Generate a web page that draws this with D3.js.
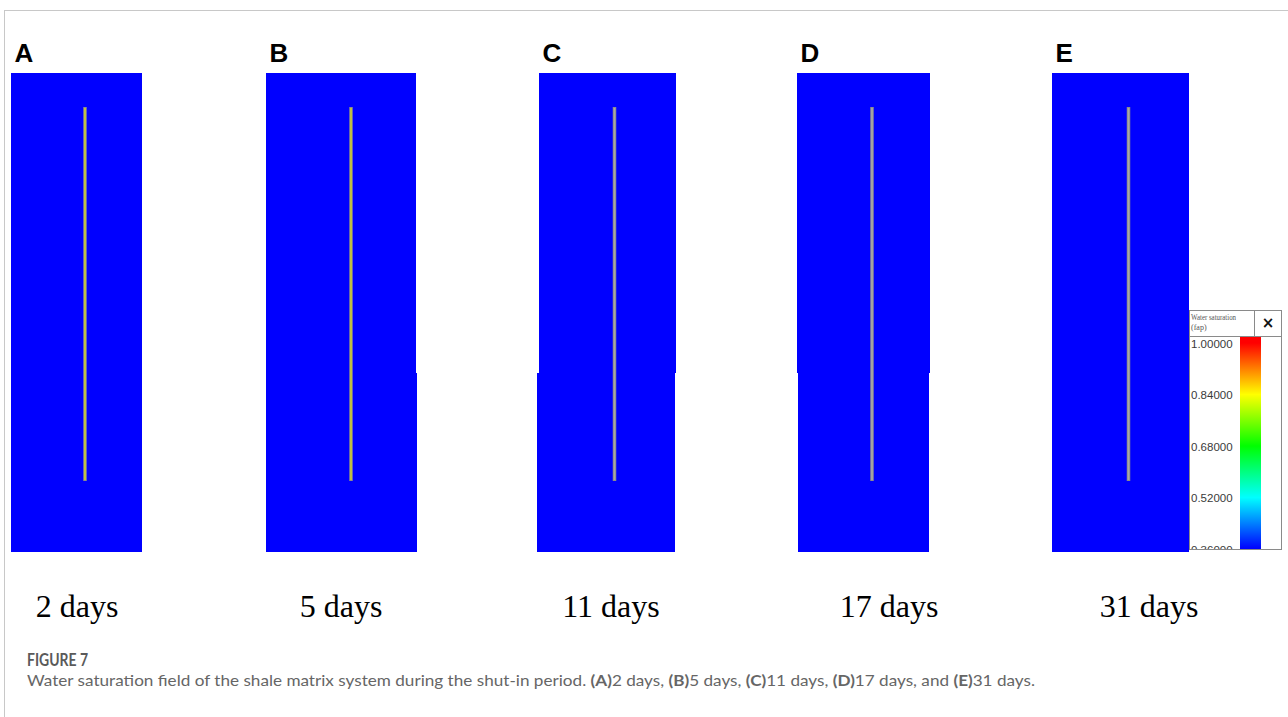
<!DOCTYPE html>
<html>
<head>
<meta charset="utf-8">
<script src="https://cdn.jsdelivr.net/npm/d3@7/dist/d3.min.js"></script>
<style>
  html, body { margin: 0; padding: 0; background: #fff; }
  svg { display: block; }
</style>
</head>
<body>
<svg id="fig" width="1288" height="717"></svg>
<script>
// ---- data ----
const panelLetters = ["A", "B", "C", "D", "E"];
const shutInDays = [2, 5, 11, 17, 31];
// matrix water saturation in each panel (uniform field)
const matrixSaturation = [0.36, 0.36, 0.36, 0.36, 0.36];
// water saturation inside the fracture (null = drained, drawn grey)
const fractureSaturation = [0.84, 0.84, null, null, null];
const colorbarTicks = [0.36, 0.52, 0.68, 0.84, 1.0];
const colorbarStops = [0.36, 0.44, 0.52, 0.60, 0.68, 0.76, 0.84, 0.92, 1.0];
const colorbarColors = ["#0000ff", "#0080ff", "#00ffff", "#00ff80", "#00ff00",
                        "#80ff00", "#ffff00", "#ff8000", "#ff0000"];

// ---- layout (pixel boxes of the grid blocks) ----
const layout = [
  { top: [11, 142],   bottom: [11, 142],   fx: 85,    lx: 77 },
  { top: [266, 416],  bottom: [266, 417],  fx: 351,   lx: 341 },
  { top: [539, 676],  bottom: [537, 675],  fx: 614.5, lx: 611 },
  { top: [797, 930],  bottom: [798, 929],  fx: 872,   lx: 889 },
  { top: [1052, 1189],bottom: [1052, 1189],fx: 1128.5,lx: 1149 }
];
const gridTop = 73, gridSeam = 373, gridBottom = 552;
const fracTop = 107, fracBottom = 481;

const color = d3.scaleLinear().domain(colorbarStops).range(colorbarColors).clamp(true);

const svg = d3.select("#fig");

// outer frame
svg.append("rect")
  .attr("x", 4.5).attr("y", 10.5)
  .attr("width", 1400).attr("height", 800)
  .attr("fill", "none").attr("stroke", "#c8c8c8").attr("stroke-width", 1);

const panels = svg.selectAll("g.panel")
  .data(panelLetters.map((l, i) => ({
    letter: l, days: shutInDays[i], sw: matrixSaturation[i],
    fsw: fractureSaturation[i], box: layout[i]
  })))
  .join("g").attr("class", "panel");

// matrix field: upper and lower grid blocks
panels.append("rect")
  .attr("x", d => d.box.top[0]).attr("y", gridTop)
  .attr("width", d => d.box.top[1] - d.box.top[0])
  .attr("height", gridSeam - gridTop)
  .attr("fill", d => color(d.sw));
panels.append("rect")
  .attr("x", d => d.box.bottom[0]).attr("y", gridSeam)
  .attr("width", d => d.box.bottom[1] - d.box.bottom[0])
  .attr("height", gridBottom - gridSeam)
  .attr("fill", d => color(d.sw));

// hydraulic fracture
panels.append("line")
  .attr("x1", d => d.box.fx).attr("x2", d => d.box.fx)
  .attr("y1", fracTop).attr("y2", fracBottom)
  .attr("stroke", "#8c8c8c").attr("stroke-width", 3.5);
panels.append("line")
  .attr("x1", d => d.box.fx).attr("x2", d => d.box.fx)
  .attr("y1", fracTop + 1).attr("y2", fracBottom - 1)
  .attr("stroke", d => d.fsw == null ? "#a8a8a8" : d3.interpolateRgb("#808080", color(d.fsw))(0.6))
  .attr("stroke-width", 1.6);

// panel letters
panels.append("text")
  .attr("x", d => d.box.top[0] + 3.5).attr("y", 62)
  .attr("font-family", "Liberation Sans, Arial, sans-serif")
  .attr("font-weight", "bold").attr("font-size", 26)
  .attr("fill", "#000")
  .text(d => d.letter);

// time labels
panels.append("text")
  .attr("x", d => d.box.lx).attr("y", 617)
  .attr("text-anchor", "middle")
  .attr("font-family", "Liberation Serif, Times New Roman, serif")
  .attr("font-size", 32).attr("fill", "#000")
  .text(d => `${d.days} days`);

// ---- colour legend ----
const cb = { x0: 1189, x1: 1282, head0: 310, head1: 336, y1: 550, split: 1254, bar0: 1240, bar1: 1261 };
const cbY = d3.scaleLinear().domain([0.36, 1.0]).range([549, 343]);

const legend = svg.append("g");
legend.append("rect")
  .attr("x", cb.x0).attr("y", cb.head0)
  .attr("width", cb.x1 - cb.x0).attr("height", cb.y1 - cb.head0)
  .attr("fill", "#fff");

const defs = svg.append("defs");
const grad = defs.append("linearGradient").attr("id", "swGrad")
  .attr("gradientUnits", "userSpaceOnUse")
  .attr("x1", 0).attr("x2", 0)
  .attr("y1", cbY(0.36)).attr("y2", cbY(1.0));
grad.selectAll("stop").data(colorbarStops).join("stop")
  .attr("offset", d => (d - 0.36) / (1.0 - 0.36))
  .attr("stop-color", d => color(d));

legend.append("rect")
  .attr("x", cb.bar0).attr("y", cb.head1 + 1)
  .attr("width", cb.bar1 - cb.bar0).attr("height", cb.y1 - cb.head1 - 2)
  .attr("fill", "url(#swGrad)");

defs.append("clipPath").attr("id", "cbClip")
  .append("rect").attr("x", cb.x0).attr("y", cb.head1)
  .attr("width", cb.x1 - cb.x0).attr("height", cb.y1 - cb.head1 - 1);

legend.append("g").attr("clip-path", "url(#cbClip)")
  .selectAll("text").data(colorbarTicks).join("text")
  .attr("x", 1191).attr("y", d => cbY(d) + 4.5)
  .attr("font-family", "Liberation Sans, Arial, sans-serif")
  .attr("font-size", 11.5).attr("fill", "#3a3a3a")
  .text(d => d.toFixed(5));

// header cells
legend.append("rect")
  .attr("x", cb.x0 + 0.5).attr("y", cb.head0 + 0.5)
  .attr("width", cb.x1 - cb.x0 - 1).attr("height", cb.y1 - cb.head0 - 1)
  .attr("fill", "none").attr("stroke", "#8a8a8a");
legend.append("line")
  .attr("x1", cb.x0).attr("x2", cb.x1)
  .attr("y1", cb.head1 + 0.5).attr("y2", cb.head1 + 0.5)
  .attr("stroke", "#8a8a8a");
legend.append("line")
  .attr("x1", cb.split + 0.5).attr("x2", cb.split + 0.5)
  .attr("y1", cb.head0).attr("y2", cb.head1)
  .attr("stroke", "#8a8a8a");
legend.append("text")
  .attr("x", 1191).attr("y", 320)
  .attr("font-family", "Liberation Serif, serif").attr("font-size", 8).attr("fill", "#555")
  .attr("textLength", 45).attr("lengthAdjust", "spacingAndGlyphs")
  .text("Water saturation");
legend.append("text")
  .attr("x", 1191).attr("y", 330)
  .attr("font-family", "Liberation Serif, serif").attr("font-size", 8).attr("fill", "#555")
  .text("(fap)");
legend.append("text")
  .attr("x", (cb.split + cb.x1) / 2).attr("y", 328)
  .attr("text-anchor", "middle")
  .attr("font-family", "DejaVu Sans, sans-serif").attr("font-weight", "bold")
  .attr("font-size", 15).attr("fill", "#111")
  .text("×");

// ---- caption ----
svg.append("text")
  .attr("x", 27).attr("y", 666)
  .attr("font-family", "Lato, Open Sans, sans-serif").attr("font-weight", "bold")
  .attr("font-size", 16.5).attr("fill", "#5a5a5a")
  .attr("textLength", 61).attr("lengthAdjust", "spacingAndGlyphs")
  .text("FIGURE 7");

const caption = svg.append("text")
  .attr("x", 27).attr("y", 686)
  .attr("font-family", "Lato, Open Sans, sans-serif")
  .attr("font-size", 16).attr("fill", "#666")
  .attr("textLength", 1008).attr("lengthAdjust", "spacingAndGlyphs");
caption.append("tspan").text("Water saturation field of the shale matrix system during the shut-in period. ");
panelLetters.forEach((l, i) => {
  caption.append("tspan").attr("font-weight", "bold").text(`(${l})`);
  const sep = i === panelLetters.length - 1 ? "." : (i === panelLetters.length - 2 ? ", and " : ", ");
  caption.append("tspan").text(`${shutInDays[i]} days${sep}`);
});
</script>
</body>
</html>
